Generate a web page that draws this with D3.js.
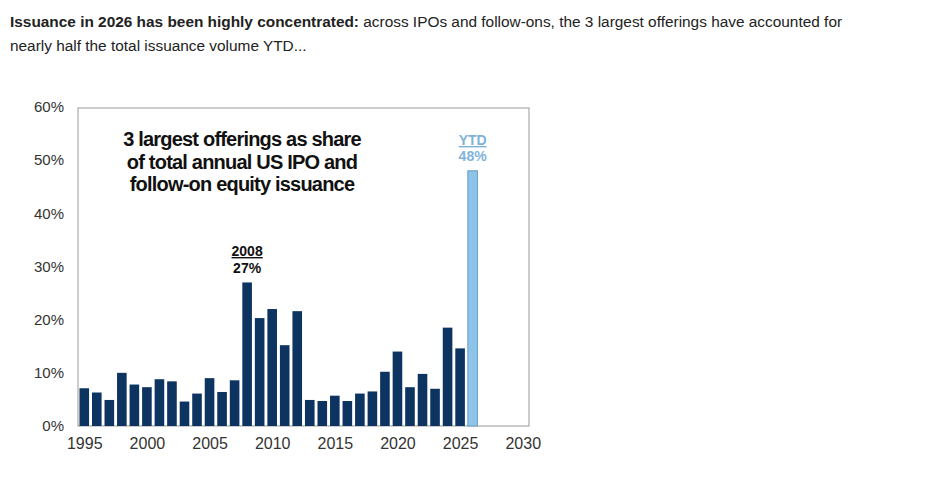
<!DOCTYPE html>
<html><head><meta charset="utf-8">
<script src="https://cdn.jsdelivr.net/npm/d3@7"></script>
<style>
body{margin:0;background:#fff;font-family:"Liberation Sans",Arial,sans-serif}
#head{position:absolute;left:10px;top:10px;width:920px;font-size:15.4px;line-height:24px;color:#222}
</style></head><body>
<div id="head"><b>Issuance in 2026 has been highly concentrated:</b> across IPOs and follow-ons, the 3 largest offerings have accounted for<br>nearly half the total issuance volume YTD...</div>
<svg id="svg" width="933" height="480" style="position:absolute;left:0;top:0"></svg>
<script>
//data
let years = d3.range(1995, 2027)
let shares = [7.1, 6.3, 4.9, 10.0, 7.8, 7.3, 8.8, 8.4, 4.6, 6.1, 9.0, 6.4, 8.6, 27.0, 20.3, 22.0, 15.2, 21.6,
    4.9, 4.7, 5.7, 4.7, 6.1, 6.5, 10.2, 14.0, 7.3, 9.8, 7.0, 18.5, 14.6, 48.0]
let yTicks = [0, 10, 20, 30, 40, 50, 60]
let xTicks = [1995, 2000, 2005, 2010, 2015, 2020, 2025, 2030]

let svg = d3.select('#svg')
let x = d3.scaleLinear().domain([1994.5, 2030.5]).range([78, 529])
let y = d3.scaleLinear().domain([0, 60]).range([426, 107])

//plot frame
svg.append('rect').attr('x', 78).attr('y', 108).attr('width', 451).attr('height', 318)
    .attr('fill', 'none').attr('stroke', '#999').attr('stroke-width', 1)

//axes
svg.append('g').attr('transform', 'translate(78,0)')
    .call(d3.axisLeft(y).tickValues(yTicks).tickFormat(d => d + '%').tickSize(0).tickPadding(14))
    .call(g => g.select('.domain').remove())
    .selectAll('text').attr('font-size', 15).attr('fill', '#333').attr('font-family', 'Liberation Sans, Arial')
svg.append('g').attr('transform', 'translate(0,426)')
    .call(d3.axisBottom(x).tickValues(xTicks).tickFormat(d3.format('d')).tickSize(0).tickPadding(12))
    .call(g => g.select('.domain').remove())
    .selectAll('text').attr('font-size', 16).attr('fill', '#333').attr('font-family', 'Liberation Sans, Arial')

//bars
let bw = 9.6
svg.append('g').selectAll('rect').data(years).join('rect')
    .attr('x', d => x(d) - bw / 2)
    .attr('y', (d, i) => y(shares[i]))
    .attr('width', bw)
    .attr('height', (d, i) => y(0) - y(shares[i]))
    .attr('fill', d => d == 2026 ? '#8ec3ea' : '#0d3461')
    .attr('stroke', d => d == 2026 ? '#6a9ec4' : 'none')

//annotations
let ann = svg.append('g').attr('font-family', 'Liberation Sans, Arial').attr('font-weight', 'bold').attr('text-anchor', 'middle')
;['3 largest offerings as share', 'of total annual US IPO and', 'follow-on equity issuance'].forEach((t, i) => {
    ann.append('text').attr('x', 242).attr('y', 146 + i * 22.5).attr('font-size', 20).attr('fill', '#111')
        .attr('letter-spacing', -0.8).text(t)
})
ann.append('text').attr('x', x(2008)).attr('y', 256).attr('font-size', 14).attr('fill', '#111')
    .attr('text-decoration', 'underline').text('2008')
ann.append('text').attr('x', x(2008)).attr('y', 273).attr('font-size', 14).attr('fill', '#111').text('27%')
ann.append('text').attr('x', x(2026)).attr('y', 145).attr('font-size', 14).attr('fill', '#7fb3da')
    .attr('text-decoration', 'underline').text('YTD')
ann.append('text').attr('x', x(2026)).attr('y', 161).attr('font-size', 14).attr('fill', '#7fb3da').text('48%')
</script>
</body></html>
